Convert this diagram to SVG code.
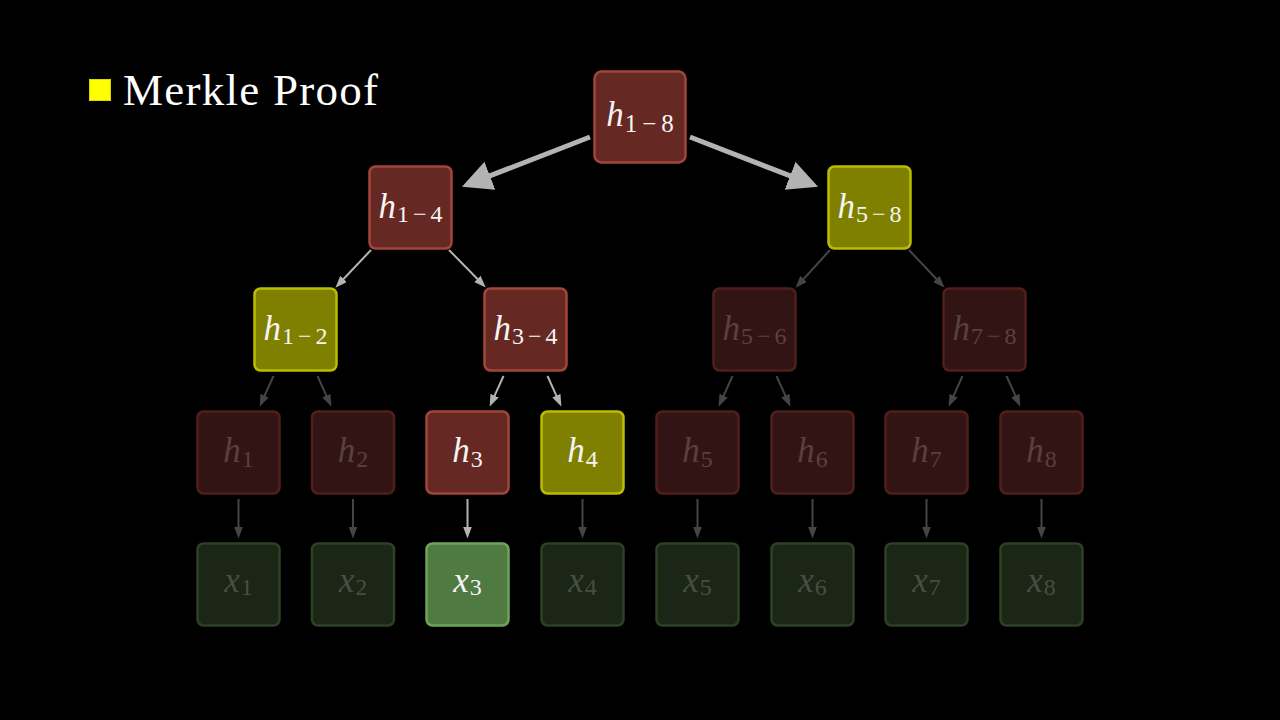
<svg xmlns="http://www.w3.org/2000/svg" width="1280" height="720" viewBox="0 0 1280 720">
<defs>
<style>
text{font-family:"Liberation Serif","DejaVu Serif",serif}
.lbl{font-size:35px;text-anchor:middle}
.h{font-style:italic}
.s{font-size:24px}
.on{fill:#f4f4f4}
.off{fill:#ffffff;fill-opacity:0.2}
.n{stroke-width:2.5}
.rA{fill:#662822;stroke:#a2463c}
.rD{fill:#321414;stroke:#501f1a}
.yA{fill:#808000;stroke:#bcbc00}
.gA{fill:#4f7a42;stroke:#6ea55b}
.gD{fill:#1b2616;stroke:#2d4224}
.cL{stroke:#b3b3b3;fill:none}
.cD{stroke:#454545;fill:none}
.big{stroke-width:5;marker-end:url(#bigL)}
.sm{stroke-width:2}
.smL{marker-end:url(#smL)}
.smD{marker-end:url(#smD)}
</style>
<marker id="bigL" markerUnits="userSpaceOnUse" markerWidth="32" markerHeight="32" refX="1" refY="15" orient="auto"><path d="M0,0 L30,15 L0,30 z" fill="#b3b3b3"/></marker>
<marker id="smL" markerUnits="userSpaceOnUse" markerWidth="14" markerHeight="12" refX="0.5" refY="4.5" orient="auto"><path d="M0,0 L12,4.5 L0,9 z" fill="#b3b3b3"/></marker>
<marker id="smD" markerUnits="userSpaceOnUse" markerWidth="14" markerHeight="12" refX="0.5" refY="4.5" orient="auto"><path d="M0,0 L12,4.5 L0,9 z" fill="#454545"/></marker>
</defs>
<rect width="1280" height="720" fill="#000"/>

<g id="legend">
<rect x="89.5" y="79.5" width="21" height="21" fill="#ffff00" stroke="#d6d600" stroke-width="1"/>
<text x="123" y="105" font-size="45" fill="#ffffff" textLength="255" lengthAdjust="spacing">Merkle Proof</text>
</g>

<g id="connectors">
<line class="cL big" x1="590" y1="137" x2="489" y2="176.2"/>
<line class="cL big" x1="690" y1="137" x2="791" y2="176.2"/>
<line class="cL sm smL" x1="371" y1="250" x2="343.3" y2="279.3"/>
<line class="cL sm smL" x1="449" y1="250" x2="477.7" y2="279.3"/>
<line class="cD sm smD" x1="830" y1="250" x2="803.3" y2="279.3"/>
<line class="cD sm smD" x1="909" y1="250" x2="936.7" y2="279.3"/>
<line class="cD sm smD" x1="273.5" y1="376" x2="264.4" y2="396.1"/>
<line class="cD sm smD" x1="317.5" y1="376" x2="326.6" y2="396.1"/>
<line class="cL sm smL" x1="503.5" y1="376" x2="494.4" y2="396.1"/>
<line class="cL sm smL" x1="547.5" y1="376" x2="556.6" y2="396.1"/>
<line class="cD sm smD" x1="732.5" y1="376" x2="723.4" y2="396.1"/>
<line class="cD sm smD" x1="776.5" y1="376" x2="785.6" y2="396.1"/>
<line class="cD sm smD" x1="962.5" y1="376" x2="953.4" y2="396.1"/>
<line class="cD sm smD" x1="1006.5" y1="376" x2="1015.6" y2="396.1"/>
<line class="cD sm smD" x1="238.5" y1="499" x2="238.5" y2="527"/>
<line class="cD sm smD" x1="353" y1="499" x2="353" y2="527"/>
<line class="cL sm smL" x1="467.5" y1="499" x2="467.5" y2="527"/>
<line class="cD sm smD" x1="582.5" y1="499" x2="582.5" y2="527"/>
<line class="cD sm smD" x1="697.5" y1="499" x2="697.5" y2="527"/>
<line class="cD sm smD" x1="812.5" y1="499" x2="812.5" y2="527"/>
<line class="cD sm smD" x1="926.5" y1="499" x2="926.5" y2="527"/>
<line class="cD sm smD" x1="1041.5" y1="499" x2="1041.5" y2="527"/>
</g>

<g id="h1-8"><rect class="n rA" x="594.5" y="71.5" width="91" height="91" rx="7"/>
<text class="lbl on" x="640" y="126" font-size="38"><tspan class="h">h</tspan><tspan font-size="25" dy="6" dx="1">1</tspan><tspan font-size="25" dx="5">−</tspan><tspan font-size="25" dx="5">8</tspan></text></g>

<g id="h1-4"><rect class="n rA" x="369.5" y="166.5" width="82" height="82" rx="6"/>
<text class="lbl on" x="410.5" y="218"><tspan class="h">h</tspan><tspan class="s" dy="4" dx="1">1</tspan><tspan class="s" dx="4">−</tspan><tspan class="s" dx="4">4</tspan></text></g>

<g id="h5-8"><rect class="n yA" x="828.5" y="166.5" width="82" height="82" rx="6"/>
<text class="lbl on" x="869.5" y="218"><tspan class="h">h</tspan><tspan class="s" dy="4" dx="1">5</tspan><tspan class="s" dx="4">−</tspan><tspan class="s" dx="4">8</tspan></text></g>

<g id="h1-2"><rect class="n yA" x="254.5" y="288.5" width="82" height="82" rx="6"/>
<text class="lbl on" x="295.5" y="339.5"><tspan class="h">h</tspan><tspan class="s" dy="4" dx="1">1</tspan><tspan class="s" dx="4">−</tspan><tspan class="s" dx="4">2</tspan></text></g>

<g id="h3-4"><rect class="n rA" x="484.5" y="288.5" width="82" height="82" rx="6"/>
<text class="lbl on" x="525.5" y="339.5"><tspan class="h">h</tspan><tspan class="s" dy="4" dx="1">3</tspan><tspan class="s" dx="4">−</tspan><tspan class="s" dx="4">4</tspan></text></g>

<g id="h5-6"><rect class="n rD" x="713.5" y="288.5" width="82" height="82" rx="6"/>
<text class="lbl off" x="754.5" y="339.5"><tspan class="h">h</tspan><tspan class="s" dy="4" dx="1">5</tspan><tspan class="s" dx="4">−</tspan><tspan class="s" dx="4">6</tspan></text></g>

<g id="h7-8"><rect class="n rD" x="943.5" y="288.5" width="82" height="82" rx="6"/>
<text class="lbl off" x="984.5" y="339.5"><tspan class="h">h</tspan><tspan class="s" dy="4" dx="1">7</tspan><tspan class="s" dx="4">−</tspan><tspan class="s" dx="4">8</tspan></text></g>

<g id="h1"><rect class="n rD" x="197.5" y="411.5" width="82" height="82" rx="6"/>
<text class="lbl off" x="238.5" y="462"><tspan class="h">h</tspan><tspan class="s" dy="5" dx="1">1</tspan></text></g>
<g id="h2"><rect class="n rD" x="312" y="411.5" width="82" height="82" rx="6"/>
<text class="lbl off" x="353" y="462"><tspan class="h">h</tspan><tspan class="s" dy="5" dx="1">2</tspan></text></g>
<g id="h3"><rect class="n rA" x="426.5" y="411.5" width="82" height="82" rx="6"/>
<text class="lbl on" x="467.5" y="462"><tspan class="h">h</tspan><tspan class="s" dy="5" dx="1">3</tspan></text></g>
<g id="h4"><rect class="n yA" x="541.5" y="411.5" width="82" height="82" rx="6"/>
<text class="lbl on" x="582.5" y="462"><tspan class="h">h</tspan><tspan class="s" dy="5" dx="1">4</tspan></text></g>
<g id="h5"><rect class="n rD" x="656.5" y="411.5" width="82" height="82" rx="6"/>
<text class="lbl off" x="697.5" y="462"><tspan class="h">h</tspan><tspan class="s" dy="5" dx="1">5</tspan></text></g>
<g id="h6"><rect class="n rD" x="771.5" y="411.5" width="82" height="82" rx="6"/>
<text class="lbl off" x="812.5" y="462"><tspan class="h">h</tspan><tspan class="s" dy="5" dx="1">6</tspan></text></g>
<g id="h7"><rect class="n rD" x="885.5" y="411.5" width="82" height="82" rx="6"/>
<text class="lbl off" x="926.5" y="462"><tspan class="h">h</tspan><tspan class="s" dy="5" dx="1">7</tspan></text></g>
<g id="h8"><rect class="n rD" x="1000.5" y="411.5" width="82" height="82" rx="6"/>
<text class="lbl off" x="1041.5" y="462"><tspan class="h">h</tspan><tspan class="s" dy="5" dx="1">8</tspan></text></g>

<g id="x1"><rect class="n gD" x="197.5" y="543.5" width="82" height="82" rx="6"/>
<text class="lbl off" x="238.5" y="592"><tspan class="h">x</tspan><tspan class="s" dy="3" dx="1">1</tspan></text></g>
<g id="x2"><rect class="n gD" x="312" y="543.5" width="82" height="82" rx="6"/>
<text class="lbl off" x="353" y="592"><tspan class="h">x</tspan><tspan class="s" dy="3" dx="1">2</tspan></text></g>
<g id="x3"><rect class="n gA" x="426.5" y="543.5" width="82" height="82" rx="6"/>
<text class="lbl on" x="467.5" y="592"><tspan class="h">x</tspan><tspan class="s" dy="3" dx="1">3</tspan></text></g>
<g id="x4"><rect class="n gD" x="541.5" y="543.5" width="82" height="82" rx="6"/>
<text class="lbl off" x="582.5" y="592"><tspan class="h">x</tspan><tspan class="s" dy="3" dx="1">4</tspan></text></g>
<g id="x5"><rect class="n gD" x="656.5" y="543.5" width="82" height="82" rx="6"/>
<text class="lbl off" x="697.5" y="592"><tspan class="h">x</tspan><tspan class="s" dy="3" dx="1">5</tspan></text></g>
<g id="x6"><rect class="n gD" x="771.5" y="543.5" width="82" height="82" rx="6"/>
<text class="lbl off" x="812.5" y="592"><tspan class="h">x</tspan><tspan class="s" dy="3" dx="1">6</tspan></text></g>
<g id="x7"><rect class="n gD" x="885.5" y="543.5" width="82" height="82" rx="6"/>
<text class="lbl off" x="926.5" y="592"><tspan class="h">x</tspan><tspan class="s" dy="3" dx="1">7</tspan></text></g>
<g id="x8"><rect class="n gD" x="1000.5" y="543.5" width="82" height="82" rx="6"/>
<text class="lbl off" x="1041.5" y="592"><tspan class="h">x</tspan><tspan class="s" dy="3" dx="1">8</tspan></text></g>
</svg>
